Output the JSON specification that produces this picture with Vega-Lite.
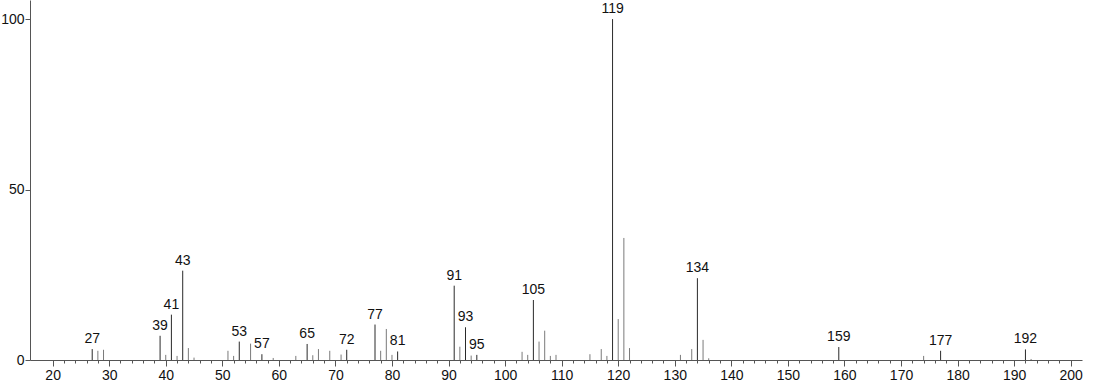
{
  "$schema": "https://vega.github.io/schema/vega-lite/v6.json",
  "width": 1052,
  "height": 360,
  "autosize": {"type": "none"},
  "padding": {"left": 30, "top": 0, "right": 12, "bottom": 24},
  "background": "white",
  "config": {
    "view": {"stroke": null},
    "font": "Liberation Sans",
    "axis": {"grid": false, "domainColor": "#555", "tickColor": "#555", "labelColor": "#111", "labelFontSize": 14, "labelFont": "Liberation Sans", "title": null}
  },
  "data": {"values": [
    {"mz": 27, "intensity": 3.2, "label": "27"},
    {"mz": 28, "intensity": 2.7},
    {"mz": 29, "intensity": 3.0},
    {"mz": 39, "intensity": 7.1, "label": "39"},
    {"mz": 40, "intensity": 1.5},
    {"mz": 41, "intensity": 13.3, "label": "41"},
    {"mz": 42, "intensity": 1.2},
    {"mz": 43, "intensity": 26.2, "label": "43"},
    {"mz": 44, "intensity": 3.5},
    {"mz": 45, "intensity": 0.7},
    {"mz": 51, "intensity": 2.7},
    {"mz": 52, "intensity": 1.2},
    {"mz": 53, "intensity": 5.4, "label": "53"},
    {"mz": 55, "intensity": 4.8},
    {"mz": 57, "intensity": 1.7, "label": "57"},
    {"mz": 59, "intensity": 0.6},
    {"mz": 63, "intensity": 1.2},
    {"mz": 65, "intensity": 4.7, "label": "65"},
    {"mz": 66, "intensity": 1.4},
    {"mz": 67, "intensity": 3.2},
    {"mz": 69, "intensity": 2.7},
    {"mz": 71, "intensity": 1.6},
    {"mz": 72, "intensity": 3.0, "label": "72"},
    {"mz": 77, "intensity": 10.4, "label": "77"},
    {"mz": 78, "intensity": 2.7},
    {"mz": 79, "intensity": 9.1},
    {"mz": 80, "intensity": 1.5},
    {"mz": 81, "intensity": 2.5, "label": "81"},
    {"mz": 91, "intensity": 21.8, "label": "91"},
    {"mz": 92, "intensity": 3.9},
    {"mz": 93, "intensity": 9.6, "label": "93"},
    {"mz": 94, "intensity": 1.3},
    {"mz": 95, "intensity": 1.5, "label": "95"},
    {"mz": 103, "intensity": 2.4},
    {"mz": 104, "intensity": 1.5},
    {"mz": 105, "intensity": 17.6, "label": "105"},
    {"mz": 106, "intensity": 5.4},
    {"mz": 107, "intensity": 8.6},
    {"mz": 108, "intensity": 1.2},
    {"mz": 109, "intensity": 1.5},
    {"mz": 115, "intensity": 1.7},
    {"mz": 117, "intensity": 3.2},
    {"mz": 118, "intensity": 1.2},
    {"mz": 119, "intensity": 100, "label": "119"},
    {"mz": 120, "intensity": 12.0},
    {"mz": 121, "intensity": 35.8},
    {"mz": 122, "intensity": 3.5},
    {"mz": 131, "intensity": 1.5},
    {"mz": 133, "intensity": 3.2},
    {"mz": 134, "intensity": 24.0, "label": "134"},
    {"mz": 135, "intensity": 5.9},
    {"mz": 136, "intensity": 0.5},
    {"mz": 159, "intensity": 3.8, "label": "159"},
    {"mz": 174, "intensity": 1.2},
    {"mz": 177, "intensity": 2.7, "label": "177"},
    {"mz": 192, "intensity": 3.1, "label": "192"},
    {"mz": 193, "intensity": 0.3}
  ]},
  "encoding": {
    "x": {"field": "mz", "type": "quantitative", "scale": {"domain": [16, 202], "nice": false, "zero": false},
      "axis": {
        "values": [20,22,24,26,28,30,32,34,36,38,40,42,44,46,48,50,52,54,56,58,60,62,64,66,68,70,72,74,76,78,80,82,84,86,88,90,92,94,96,98,100,102,104,106,108,110,112,114,116,118,120,122,124,126,128,130,132,134,136,138,140,142,144,146,148,150,152,154,156,158,160,162,164,166,168,170,172,174,176,178,180,182,184,186,188,190,192,194,196,198,200],
        "labelExpr": "datum.value % 10 === 0 ? datum.label : ''",
        "tickSize": {"condition": {"test": "datum.value % 10 === 0", "value": 6}, "value": 3},
        "labelPadding": 2,
        "labelFlush": false,
        "labelOverlap": false
      }},
    "y": {"field": "intensity", "type": "quantitative", "scale": {"domain": [0, 105.6], "nice": false},
      "axis": {"values": [0, 50, 100], "tickSize": 5, "labelPadding": 1}}
  },
  "layer": [
    {"mark": {"type": "rule", "strokeWidth": 1},
     "encoding": {
       "y2": {"datum": 0},
       "color": {"condition": {"test": "datum.label", "value": "#2a2a2a"}, "value": "#7a7a7a"}
     }},
    {"transform": [{"filter": "datum.label"}],
     "mark": {"type": "text", "baseline": "bottom", "dy": -3, "fontSize": 14, "color": "#111", "clip": false},
     "encoding": {"text": {"field": "label"}}}
  ]
}
